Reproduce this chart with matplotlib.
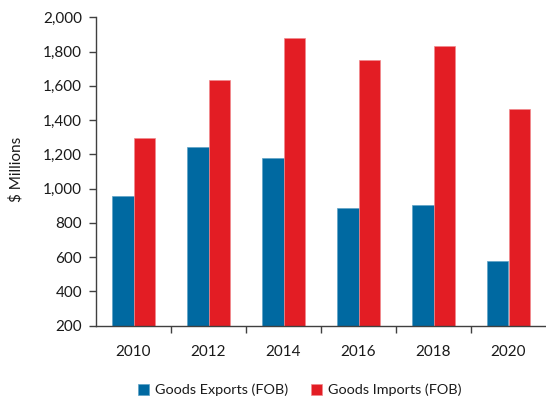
import numpy as np
import matplotlib
matplotlib.use("Agg")
import matplotlib.pyplot as plt
from matplotlib.ticker import FuncFormatter, FixedLocator

years = ["2010", "2012", "2014", "2016", "2018", "2020"]
exports = [955, 1243, 1177, 885, 903, 576]
imports = [1294, 1636, 1877, 1749, 1832, 1463]
y_ticks = [200, 400, 600, 800, 1000, 1200, 1400, 1600, 1800, 2000]

blue = "#0069A1"
red = "#E31D24"
text_color = "#1a1a1a"

plt.rcParams["font.family"] = ["Lato", "DejaVu Sans"]

fig = plt.figure(figsize=(5.46, 4.01), dpi=100)
ax = fig.add_axes([96 / 546, 1 - 325.7 / 401, 450 / 546, (325.7 - 17.3) / 401])

x = np.arange(len(years))
w = 0.287
ax.bar(x - w / 2, exports, width=w, color=blue, edgecolor="#5fa3c6",
       linewidth=0.5, label="Goods Exports (FOB)", zorder=2)
ax.bar(x + w / 2, imports, width=w, color=red, edgecolor="#f08a8d",
       linewidth=0.5, label="Goods Imports (FOB)", zorder=2)

ax.set_xlim(-0.5, len(years) - 0.5)
ax.set_ylim(200, 2000)
ax.yaxis.set_major_locator(FixedLocator(y_ticks))
ax.yaxis.set_major_formatter(FuncFormatter(lambda v, p: f"{int(v):,}"))

ax.set_xticks(x)
ax.set_xticklabels(years)
ax.xaxis.set_minor_locator(FixedLocator(np.arange(0.5, len(years) - 0.5, 1)))
ax.tick_params(axis="x", which="major", length=0, pad=14, labelsize=11,
               labelcolor=text_color)
ax.tick_params(axis="x", which="minor", length=5, width=1, color="#404040", direction="out")
ax.tick_params(axis="y", length=5, width=1, color="#404040", labelsize=11,
               pad=5, labelcolor=text_color)

for s in ("top", "right"):
    ax.spines[s].set_visible(False)
for s in ("left", "bottom"):
    ax.spines[s].set_color("#404040")
    ax.spines[s].set_linewidth(1.0)

fig.text(16 / 546, 1 - 169 / 401, "$ Millions", rotation=90, ha="center",
         va="center", fontsize=11, color=text_color)

fig.legend(loc="center", bbox_to_anchor=(300 / 546, 1 - 390 / 401), ncol=2,
           frameon=False, fontsize=10.4, handlelength=0.75, handleheight=0.75,
           handletextpad=0.45, columnspacing=1.55, labelcolor=text_color)

fig.savefig("out.png", dpi=100)
